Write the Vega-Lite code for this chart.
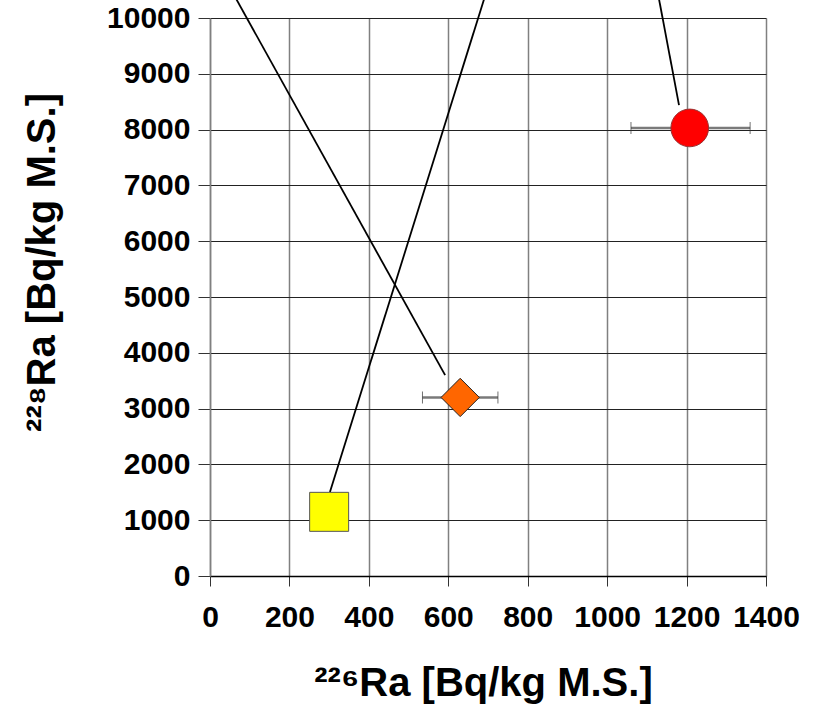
{
  "$schema": "https://vega.github.io/schema/vega-lite/v6.json",
  "width": 556,
  "height": 558,
  "autosize": "none",
  "padding": {"left": 210, "top": 18, "right": 48, "bottom": 148},
  "background": "white",
  "config": {
    "font": "Liberation Sans",
    "view": {"stroke": null}
  },
  "datasets": {
    "samples": [
      {"sample": "A", "ra226": 300, "ra228": 1150, "lo": null, "hi": null},
      {"sample": "B", "ra226": 630, "ra228": 3200, "lo": 535, "hi": 725},
      {"sample": "C", "ra226": 1208, "ra228": 8030, "lo": 1060, "hi": 1360}
    ],
    "leaders": [
      {"sample": "A", "end": 0, "ra226": 302, "ra228": 1505},
      {"sample": "A", "end": 1, "ra226": 706, "ra228": 10700},
      {"sample": "B", "end": 0, "ra226": 592, "ra228": 3600},
      {"sample": "B", "end": 1, "ra226": 38, "ra228": 10700},
      {"sample": "C", "end": 0, "ra226": 1181, "ra228": 8440},
      {"sample": "C", "end": 1, "ra226": 1121, "ra228": 10700}
    ]
  },
  "encoding": {
    "x": {
      "field": "ra226",
      "type": "quantitative",
      "scale": {"domain": [0, 1400], "nice": false, "zero": true},
      "axis": {
        "title": "²²⁶Ra [Bq/kg M.S.]",
        "titleFont": "Liberation Sans",
        "titleFontSize": 40,
        "titleFontWeight": "bold",
        "titleColor": "black",
        "titleAlign": "center",
        "titleBaseline": "alphabetic",
        "titleX": 273,
        "titleY": 119,
        "values": [0, 200, 400, 600, 800, 1000, 1200, 1400],
        "format": "d",
        "labelFontSize": 30,
        "labelFontWeight": "bold",
        "labelColor": "black",
        "labelPadding": 16,
        "labelFlush": false,
        "labelOverlap": false,
        "tickSize": 10,
        "tickColor": "#333",
        "domainColor": "black",
        "domainWidth": 1.5,
        "grid": true,
        "gridColor": "#808080",
        "gridWidth": 1.5
      }
    },
    "y": {
      "field": "ra228",
      "type": "quantitative",
      "scale": {"domain": [0, 10000], "nice": false, "zero": true},
      "axis": {
        "title": "²²⁸Ra [Bq/kg M.S.]",
        "titleFont": "Liberation Sans",
        "titleFontSize": 40,
        "titleFontWeight": "bold",
        "titleColor": "black",
        "titleAngle": -90,
        "titleAlign": "center",
        "titleBaseline": "alphabetic",
        "titleX": -156,
        "titleY": 244,
        "values": [0, 1000, 2000, 3000, 4000, 5000, 6000, 7000, 8000, 9000, 10000],
        "format": "d",
        "labelFontSize": 30,
        "labelFontWeight": "bold",
        "labelColor": "black",
        "labelPadding": 8,
        "labelFlush": false,
        "labelOverlap": false,
        "tickSize": 12,
        "tickColor": "#333",
        "domainColor": "#808080",
        "domainWidth": 1.5,
        "grid": true,
        "gridColor": "#222",
        "gridWidth": 1.2
      }
    }
  },
  "layer": [
    {
      "data": {"name": "leaders"},
      "mark": {"type": "line", "color": "black", "strokeWidth": 1.8, "clip": false},
      "encoding": {
        "detail": {"field": "sample"},
        "order": {"field": "end", "type": "quantitative"}
      }
    },
    {
      "data": {"name": "samples"},
      "transform": [{"filter": "datum.lo != null"}],
      "mark": {"type": "rule", "color": "#7a7a7a", "strokeWidth": 2.5},
      "encoding": {
        "x": {"field": "lo", "type": "quantitative"},
        "x2": {"field": "hi"}
      }
    },
    {
      "data": {"name": "samples"},
      "transform": [{"filter": "datum.lo != null"}],
      "mark": {"type": "tick", "orient": "vertical", "color": "#333", "thickness": 1, "size": 12},
      "encoding": {"x": {"field": "lo", "type": "quantitative"}}
    },
    {
      "data": {"name": "samples"},
      "transform": [{"filter": "datum.hi != null"}],
      "mark": {"type": "tick", "orient": "vertical", "color": "#333", "thickness": 1, "size": 12},
      "encoding": {"x": {"field": "hi", "type": "quantitative"}}
    },
    {
      "data": {"name": "samples"},
      "mark": {"type": "point", "filled": true, "opacity": 1, "strokeWidth": 1},
      "encoding": {
        "shape": {
          "field": "sample",
          "type": "nominal",
          "scale": {"domain": ["A", "B", "C"], "range": ["square", "diamond", "circle"]},
          "legend": null
        },
        "size": {
          "field": "sample",
          "type": "nominal",
          "scale": {"domain": ["A", "B", "C"], "range": [1521, 1420, 1213]},
          "legend": null
        },
        "fill": {
          "field": "sample",
          "type": "nominal",
          "scale": {"domain": ["A", "B", "C"], "range": ["#FFFF00", "#FF6600", "#FF0000"]},
          "legend": null
        },
        "stroke": {
          "field": "sample",
          "type": "nominal",
          "scale": {"domain": ["A", "B", "C"], "range": ["#555555", "#222222", "#993333"]},
          "legend": null
        }
      }
    }
  ]
}
